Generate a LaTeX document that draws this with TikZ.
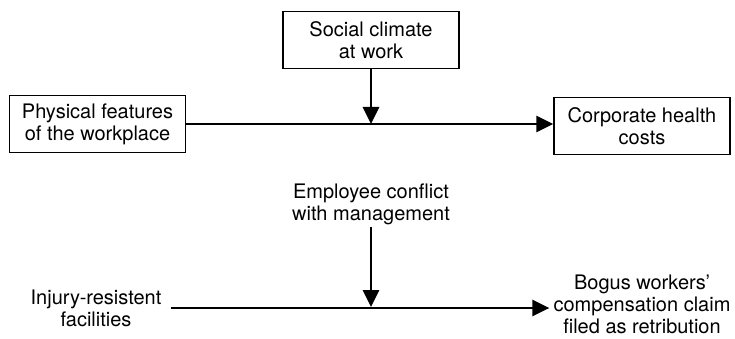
\documentclass[tikz,border=0pt]{standalone}
\usepackage{fontspec}
\setmainfont{TeX Gyre Heros}
\usetikzlibrary{arrows.meta}

\tikzset{
  varbox/.style={draw, line width=1.5pt, minimum width=176pt, minimum height=57pt,
    inner sep=0pt, align=center, font=\fontsize{20}{22}\selectfont},
  varlabel/.style={inner sep=2pt, align=center, font=\fontsize{20}{22}\selectfont},
  flow/.style={line width=2.8pt, -{Triangle[length=17pt,width=16pt]}},
}

\begin{document}
\begin{tikzpicture}[x=1pt, y=-1pt, line join=miter]

  %% ==== upper model: boxes ====
  \node[varbox] (social)   at (371,40)  {Social climate\\at work};
  \node[varbox] (physical) at (97.5,124) {Physical features\\of the workplace};
  \node[varbox] (health)   at (642,126) {Corporate health\\costs};
  \coordinate (j1) at (371,124);

  \draw[flow] (physical.east) -- (physical.east -| health.west);
  \draw[flow] (social) -- (j1);

  %% ==== lower model: plain labels ====
  \node[varlabel] (conflict) at (371,204) {Employee conflict\\with management};
  \node[varlabel] (injury)   at (96,308)  {Injury-resistent\\facilities};
  \node[varlabel] (bogus)    at (642,304) {Bogus workers'\\compensation claim\\filed as retribution};
  \coordinate (j2) at (371,307);

  \draw[flow] ([xshift=7pt]injury.east) -- ([xshift=-2pt]injury.east -| bogus.west);
  \draw[flow] (conflict) -- (j2);

  % fix the canvas to the reference size
  \pgfresetboundingbox
  \path[use as bounding box] (0,0) rectangle (735,339);
\end{tikzpicture}
\end{document}
